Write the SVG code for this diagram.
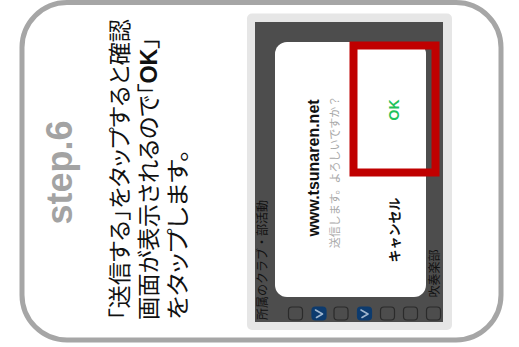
<svg xmlns="http://www.w3.org/2000/svg" width="519" height="347" viewBox="0 0 519 347">
  <style>
    .jp { font-family: "Noto Sans CJK JP", "Noto Sans", sans-serif; }
    .lat { font-family: "Liberation Sans", Arial, sans-serif; }
    .main { font-size: 23px; fill: #111; font-weight: 400; font-feature-settings: "palt"; }
    .cb { fill: #4d4d4d; stroke: #2b2b2b; stroke-width: 1.2; }
    .cbon { fill: #0d3b6e; stroke: #0d3b6e; stroke-width: 1.2; }
    .chk { fill: none; stroke: #9fb6cf; stroke-width: 1.6; stroke-linecap: round; stroke-linejoin: round; }
  </style>
  <g id="frame">
    <rect x="22" y="2.5" width="479" height="337.5" rx="45" ry="45" fill="#ffffff" stroke="#a6a6a6" stroke-width="5"/>
  </g>
  <g id="title">
    <text class="lat" transform="translate(72,172.5) rotate(-90)" text-anchor="middle" font-size="36" font-weight="bold" fill="#a3a3a3">step.6</text>
  </g>
  <g id="description" class="jp main">
    <text transform="translate(128,320) rotate(-90)" textLength="301" lengthAdjust="spacingAndGlyphs">「送信する」をタップすると確認</text>
    <text transform="translate(157,320) rotate(-90)" textLength="283" lengthAdjust="spacingAndGlyphs">画面が表示されるので「<tspan class="lat" font-weight="bold">OK</tspan>」</text>
    <text transform="translate(186,320) rotate(-90)" textLength="171" lengthAdjust="spacingAndGlyphs">をタップします。</text>
  </g>
  <g id="screenshot">
    <rect x="247" y="13.5" width="205" height="316.5" rx="5" fill="#e6e6e6"/>
    <rect x="255" y="22" width="188" height="300" fill="#4d4d4d"/>
    <text class="jp" transform="translate(267,260) rotate(-90)" text-anchor="middle" font-size="12" fill="#111">所属のクラブ・部活動</text>
    <text class="jp" transform="translate(439,273.5) rotate(-90)" text-anchor="middle" font-size="12" fill="#111">吹奏楽部</text>
    <g id="checkboxes">
      <rect class="cb" x="288.5" y="307" width="14" height="13" rx="3.5"/>
      <rect class="cbon" x="312" y="307" width="14" height="13" rx="3.5"/>
      <polyline class="chk" points="315.5,310 322.5,314 316.5,317.5"/>
      <rect class="cb" x="334" y="307" width="14" height="13" rx="3.5"/>
      <rect class="cbon" x="357.5" y="307" width="14" height="13" rx="3.5"/>
      <polyline class="chk" points="361,310 368,314 362,317.5"/>
      <rect class="cb" x="380.5" y="307" width="14" height="13" rx="3.5"/>
      <rect class="cb" x="403.5" y="307" width="14" height="13" rx="3.5"/>
      <rect class="cb" x="426.5" y="307" width="14" height="13" rx="3.5"/>
    </g>
  </g>
  <g id="dialog">
    <rect x="275" y="42" width="151" height="255" rx="12" fill="#ffffff"/>
    <text class="lat" transform="translate(318.5,168) rotate(-90)" text-anchor="middle" font-size="16" font-weight="bold" fill="#111">www.tsunaren.net</text>
    <text class="jp" transform="translate(339,172) rotate(-90)" text-anchor="middle" font-size="11" fill="#a8a8a8">送信します。よろしいですか？</text>
    <text class="lat" transform="translate(399,110) rotate(-90)" text-anchor="middle" font-size="14" font-weight="bold" fill="#1fc25c">OK</text>
    <text class="jp" transform="translate(399,230) rotate(-90)" text-anchor="middle" font-size="13" font-weight="bold" fill="#111">キャンセル</text>
  </g>
  <g id="highlight">
    <rect x="353.5" y="45.5" width="82" height="127" fill="none" stroke="#c00000" stroke-width="8"/>
  </g>
</svg>
